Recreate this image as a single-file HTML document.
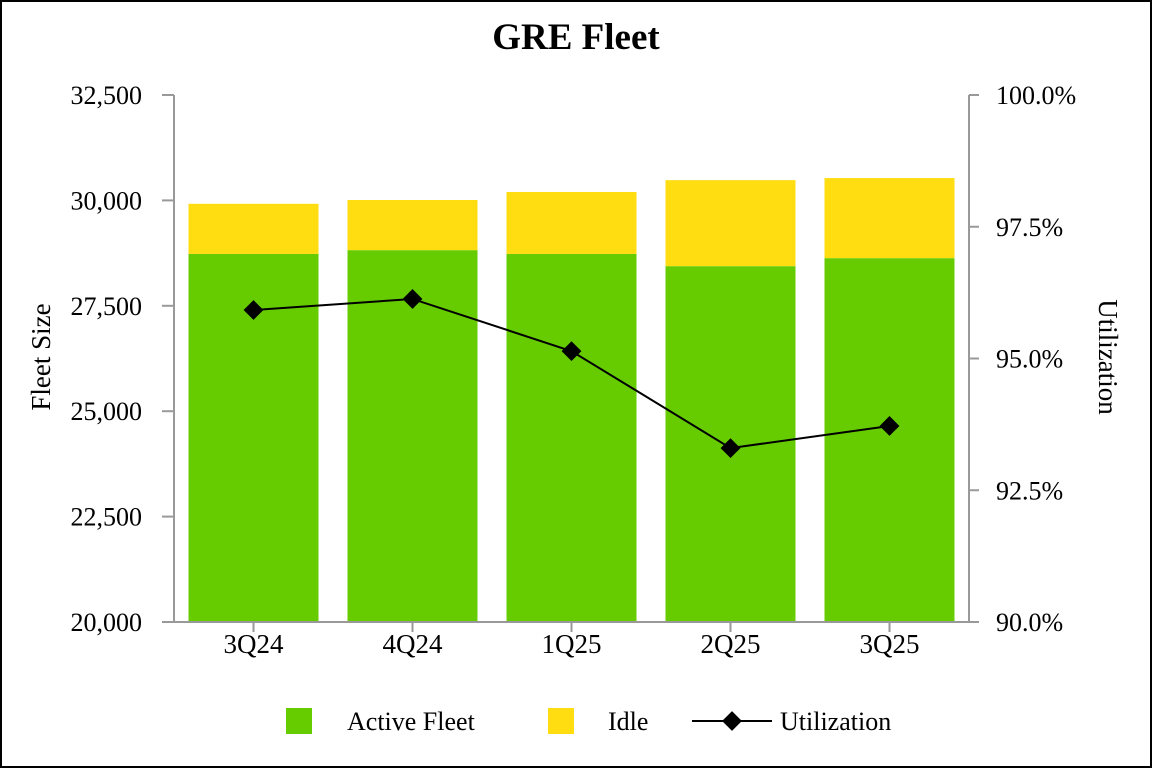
<!DOCTYPE html>
<html><head><meta charset="utf-8"><style>
html,body{margin:0;padding:0;background:#fff}
svg{display:block}
text{font-family:"Liberation Serif",serif;fill:#000}
</style></head><body>
<svg width="1152" height="768">
<rect x="1" y="1" width="1150" height="766" fill="#fff" stroke="#000" stroke-width="2"/>
<text x="576" y="49" font-size="37" font-weight="bold" text-anchor="middle">GRE Fleet</text>
<g id="plot"></g>
<text transform="translate(50,357) rotate(-90)" font-size="27" text-anchor="middle">Fleet Size</text>
<text transform="translate(1099,357) rotate(90)" font-size="27" text-anchor="middle">Utilization</text>
<g>
<rect x="286" y="708" width="26" height="26" fill="#66cc00"/>
<text x="347" y="730" font-size="26">Active Fleet</text>
<rect x="548" y="708" width="26" height="26" fill="#ffdd11"/>
<text x="608" y="730" font-size="26">Idle</text>
<line x1="692" y1="721" x2="772" y2="721" stroke="#000" stroke-width="2"/>
<rect x="725" y="714" width="14" height="14" transform="rotate(45 732 721)" fill="#000"/>
<text x="780" y="730" font-size="26">Utilization</text>
</g>
</svg>
<script>
const categories=["3Q24","4Q24","1Q25","2Q25","3Q25"];
const activeFleet=[28730,28820,28730,28440,28630];
const totalFleet=[29920,30010,30200,30480,30530];
const utilization=[95.92,96.13,95.14,93.30,93.72];
const leftTicks=[20000,22500,25000,27500,30000,32500];
const rightTicks=[90,92.5,95,97.5,100];

const NS="http://www.w3.org/2000/svg";
const g=document.getElementById('plot');
const X0=174,X1=969,Y0=622,Y1=95;
const yL=v=>Y0-(v-20000)/12500*(Y0-Y1);
const yR=v=>Y0-(v-90)/10*(Y0-Y1);
const band=(X1-X0)/categories.length;
const xC=i=>X0+band*(i+0.5);
const bw=130;
function mk(t,a){const e=document.createElementNS(NS,t);for(const k in a)e.setAttribute(k,a[k]);g.appendChild(e);return e;}
categories.forEach((c,i)=>{
  const a=mk('rect',{x:xC(i)-bw/2,y:yL(activeFleet[i]),width:bw,height:Y0-yL(activeFleet[i]),fill:'#66cc00'});
  
  
  const d=mk('rect',{x:xC(i)-bw/2,y:yL(totalFleet[i]),width:bw,height:yL(activeFleet[i])-yL(totalFleet[i]),fill:'#ffdd11'});
  
  
  const tk=mk('line',{x1:xC(i),x2:xC(i),y1:Y0,y2:Y0+10,stroke:'#999','stroke-width':2});
  
  
  const t=mk('text',{x:xC(i),y:Y0+31,'font-size':27,'text-anchor':'middle'});
  t.textContent=c;
  
  
});
const ax=mk('path',{d:`M${X0},${Y1}V${Y0}H${X1}V${Y1}`,fill:'none',stroke:'#999','stroke-width':2});


leftTicks.forEach(v=>{
  const l=mk('line',{x1:X0-12,x2:X0,y1:yL(v),y2:yL(v),stroke:'#999','stroke-width':2});
  
  
  const t=mk('text',{x:142,y:yL(v)+9,'font-size':26,'text-anchor':'end'});
  t.textContent=v.toLocaleString('en-US');
  
  
});
rightTicks.forEach(v=>{
  const l=mk('line',{x1:X1,x2:X1+10,y1:yR(v),y2:yR(v),stroke:'#999','stroke-width':2});
  
  
  const t=mk('text',{x:996,y:yR(v)+9,'font-size':26});
  t.textContent=v.toFixed(1)+'%';
  
  
});
const pl=mk('polyline',{points:utilization.map((u,i)=>xC(i)+','+yR(u)).join(' '),fill:'none',stroke:'#000','stroke-width':2});


utilization.forEach((u,i)=>{
  const m=mk('rect',{x:xC(i)-7,y:yR(u)-7,width:14,height:14,fill:'#000',transform:`rotate(45 ${xC(i)} ${yR(u)})`});
  
  
});
</script>
</body></html>
